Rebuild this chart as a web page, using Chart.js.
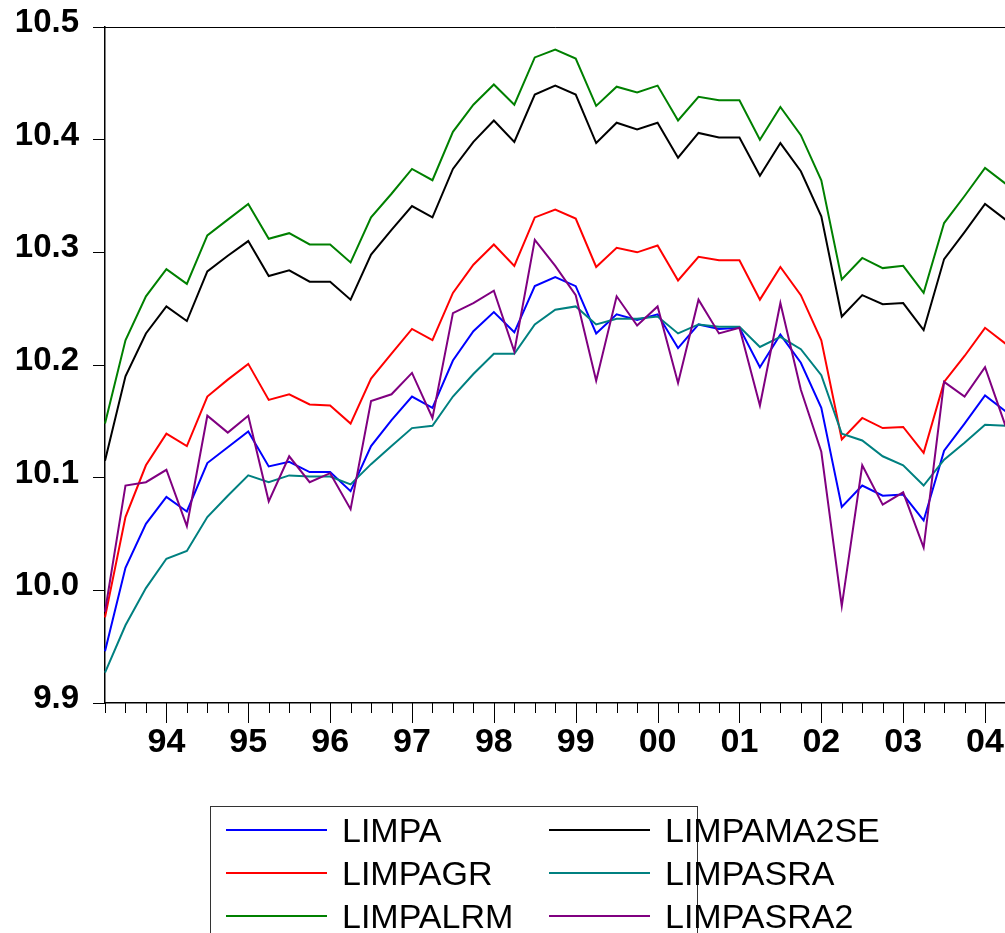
<!DOCTYPE html>
<html>
<head>
<meta charset="utf-8">
<script src="https://cdn.jsdelivr.net/npm/chart.js@4"></script>
<style>
  html, body { margin: 0; padding: 0; background: #fff; }
  #wrap { position: relative; width: 1005px; height: 933px; overflow: hidden; }
  #chart { position: absolute; left: 0; top: 0; }
  #legend { position: absolute; left: 210px; top: 806px; width: 486px; height: 200px;
            border: 1px solid #333; font-family: 'Liberation Sans', Arial, sans-serif; font-size: 34px; }
  .item { position: absolute; height: 40px; }
  .item .ln { position: absolute; top: 19px; width: 101px; height: 2px; }
  .item .tx { position: absolute; top: 0; line-height: 40px; white-space: nowrap; }
</style>
</head>
<body>
<div id="wrap">
  <canvas id="chart" width="1010" height="933"></canvas>
  <div id="legend"></div>
</div>
<script>
// trimestres 1993Q2 .. 2004Q2
const quarters = [
  '1993Q2','1993Q3','1993Q4',
  '1994Q1','1994Q2','1994Q3','1994Q4','1995Q1','1995Q2','1995Q3','1995Q4',
  '1996Q1','1996Q2','1996Q3','1996Q4','1997Q1','1997Q2','1997Q3','1997Q4',
  '1998Q1','1998Q2','1998Q3','1998Q4','1999Q1','1999Q2','1999Q3','1999Q4',
  '2000Q1','2000Q2','2000Q3','2000Q4','2001Q1','2001Q2','2001Q3','2001Q4',
  '2002Q1','2002Q2','2002Q3','2002Q4','2003Q1','2003Q2','2003Q3','2003Q4',
  '2004Q1','2004Q2'
]
const yearLabels = ['94','95','96','97','98','99','00','01','02','03','04']
const yTicks = [9.9, 10.0, 10.1, 10.2, 10.3, 10.4, 10.5]

const limpa = [9.946,10.020,10.059,10.083,10.070,10.113,10.127,10.141,10.110,10.114,10.105,10.105,
  10.088,10.128,10.151,10.172,10.162,10.204,10.230,10.247,10.229,10.270,10.278,10.270,10.228,10.245,
  10.240,10.245,10.215,10.236,10.232,10.233,10.198,10.227,10.202,10.162,10.074,10.093,10.084,10.085,
  10.062,10.124,10.148,10.173,10.159]
const limpagr = [9.976,10.065,10.111,10.139,10.128,10.172,10.187,10.201,10.169,10.174,10.165,10.164,
  10.148,10.188,10.210,10.232,10.222,10.264,10.289,10.307,10.288,10.331,10.338,10.330,10.287,10.304,
  10.300,10.306,10.275,10.296,10.293,10.293,10.258,10.287,10.262,10.222,10.134,10.153,10.144,10.145,
  10.122,10.185,10.208,10.233,10.219]
const limpalrm = [10.148,10.222,10.261,10.285,10.272,10.315,10.329,10.343,10.312,10.317,10.307,10.307,
  10.291,10.331,10.352,10.374,10.364,10.407,10.431,10.449,10.431,10.473,10.480,10.472,10.430,10.447,
  10.442,10.448,10.417,10.438,10.435,10.435,10.400,10.429,10.404,10.364,10.276,10.295,10.286,10.288,
  10.264,10.326,10.350,10.375,10.361]
const limpama2se = [10.115,10.190,10.228,10.252,10.239,10.283,10.297,10.310,10.279,10.284,10.274,10.274,
  10.258,10.298,10.320,10.341,10.331,10.374,10.398,10.417,10.398,10.440,10.448,10.440,10.397,10.415,
  10.409,10.415,10.384,10.406,10.402,10.402,10.368,10.397,10.372,10.332,10.243,10.262,10.254,10.255,
  10.231,10.294,10.318,10.343,10.329]
const limpasra = [9.927,9.969,10.002,10.028,10.035,10.065,10.084,10.102,10.096,10.102,10.101,10.101,
  10.094,10.112,10.128,10.144,10.146,10.172,10.192,10.210,10.210,10.236,10.249,10.252,10.236,10.241,
  10.241,10.243,10.228,10.236,10.234,10.234,10.216,10.225,10.214,10.191,10.139,10.133,10.119,10.111,
  10.093,10.116,10.131,10.147,10.146]
const limpasra2 = [9.981,10.093,10.096,10.107,10.057,10.155,10.140,10.155,10.079,10.119,10.096,10.104,
  10.072,10.168,10.174,10.193,10.153,10.246,10.255,10.266,10.212,10.311,10.288,10.262,10.186,10.261,
  10.235,10.252,10.184,10.258,10.228,10.233,10.164,10.255,10.178,10.123,9.986,10.111,10.076,10.087,
  10.038,10.185,10.172,10.198,10.146]

const series = [
  { name: 'LIMPA', data: limpa, color: '#0000ff' },
  { name: 'LIMPAGR', data: limpagr, color: '#ff0000' },
  { name: 'LIMPALRM', data: limpalrm, color: '#008000' },
  { name: 'LIMPAMA2SE', data: limpama2se, color: '#000000' },
  { name: 'LIMPASRA', data: limpasra, color: '#008080' },
  { name: 'LIMPASRA2', data: limpasra2, color: '#800080' }
]

Chart.defaults.font.family = "'Liberation Sans', Arial, sans-serif"
Chart.defaults.color = '#000'

// ticks del eje x (menores por trimestre, mayores en Q1) y marco superior
const ejeX = {
  id: 'ejeX',
  afterDraw(chart) {
    const ctx = chart.ctx
    const sx = chart.scales.x
    const a = chart.chartArea
    ctx.save()
    ctx.strokeStyle = '#000'
    ctx.lineWidth = 1
    ctx.beginPath()
    ctx.moveTo(a.left, a.top + 0.5)
    ctx.lineTo(a.right, a.top + 0.5)
    ctx.stroke()
    ctx.beginPath()
    quarters.forEach((q, i) => {
      const x = Math.round(sx.getPixelForValue(i)) + 0.5
      const major = q.endsWith('Q1')
      ctx.moveTo(x, a.bottom)
      ctx.lineTo(x, a.bottom + (major ? 20 : 10))
    })
    ctx.stroke()
    ctx.font = "bold 34px 'Liberation Sans', Arial, sans-serif"
    ctx.textAlign = 'center'
    ctx.textBaseline = 'middle'
    ctx.fillStyle = '#000'
    let k = 0
    quarters.forEach((q, i) => {
      if (q.endsWith('Q1')) {
        ctx.fillText(yearLabels[k++], sx.getPixelForValue(i), a.bottom + 40)
      }
    })
    ctx.restore()
  }
}

new Chart(document.getElementById('chart'), {
  type: 'line',
  data: {
    labels: quarters,
    datasets: series.map((s, k) => ({
      label: s.name,
      data: s.data,
      borderColor: s.color,
      backgroundColor: s.color,
      borderWidth: 2,
      pointRadius: 0,
      tension: 0,
      order: series.length - k
    }))
  },
  options: {
    responsive: false,
    animation: false,
    layout: { padding: { top: 27, right: 4.5, bottom: 0, left: 0 } },
    plugins: { legend: { display: false }, tooltip: { enabled: false } },
    scales: {
      x: {
        type: 'category',
        offset: false,
        ticks: { display: false },
        grid: { display: false },
        border: { display: true, color: '#000', width: 1.5 },
        afterFit: s => { s.height = 230 }
      },
      y: {
        min: 9.9,
        max: 10.5,
        afterBuildTicks: s => { s.ticks = yTicks.map(v => ({ value: v })) },
        ticks: {
          font: { size: 33, weight: 'bold', lineHeight: 0.6 },
          color: '#000',
          padding: 14,
          labelOffset: -4,
          callback: v => v.toFixed(1)
        },
        grid: { drawOnChartArea: false, color: '#000', tickLength: 12 },
        border: { display: true, color: '#000', width: 1.5 },
        afterFit: s => { s.width = 105; s.paddingTop = 0; s.paddingBottom = 0 }
      }
    }
  },
  plugins: [ejeX]
})

// leyenda en caja, dos columnas
const legend = document.getElementById('legend')
series.forEach((s, k) => {
  const col = Math.floor(k / 3), row = k % 3
  const it = document.createElement('div')
  it.className = 'item'
  it.style.left = (col ? 338 : 15) + 'px'
  it.style.top = (3 + row * 43) + 'px'
  it.innerHTML = '<div class="ln" style="left:0;background:' + s.color + '"></div>' +
                 '<div class="tx" style="left:116px">' + s.name + '</div>'
  legend.appendChild(it)
})
</script>
</body>
</html>
